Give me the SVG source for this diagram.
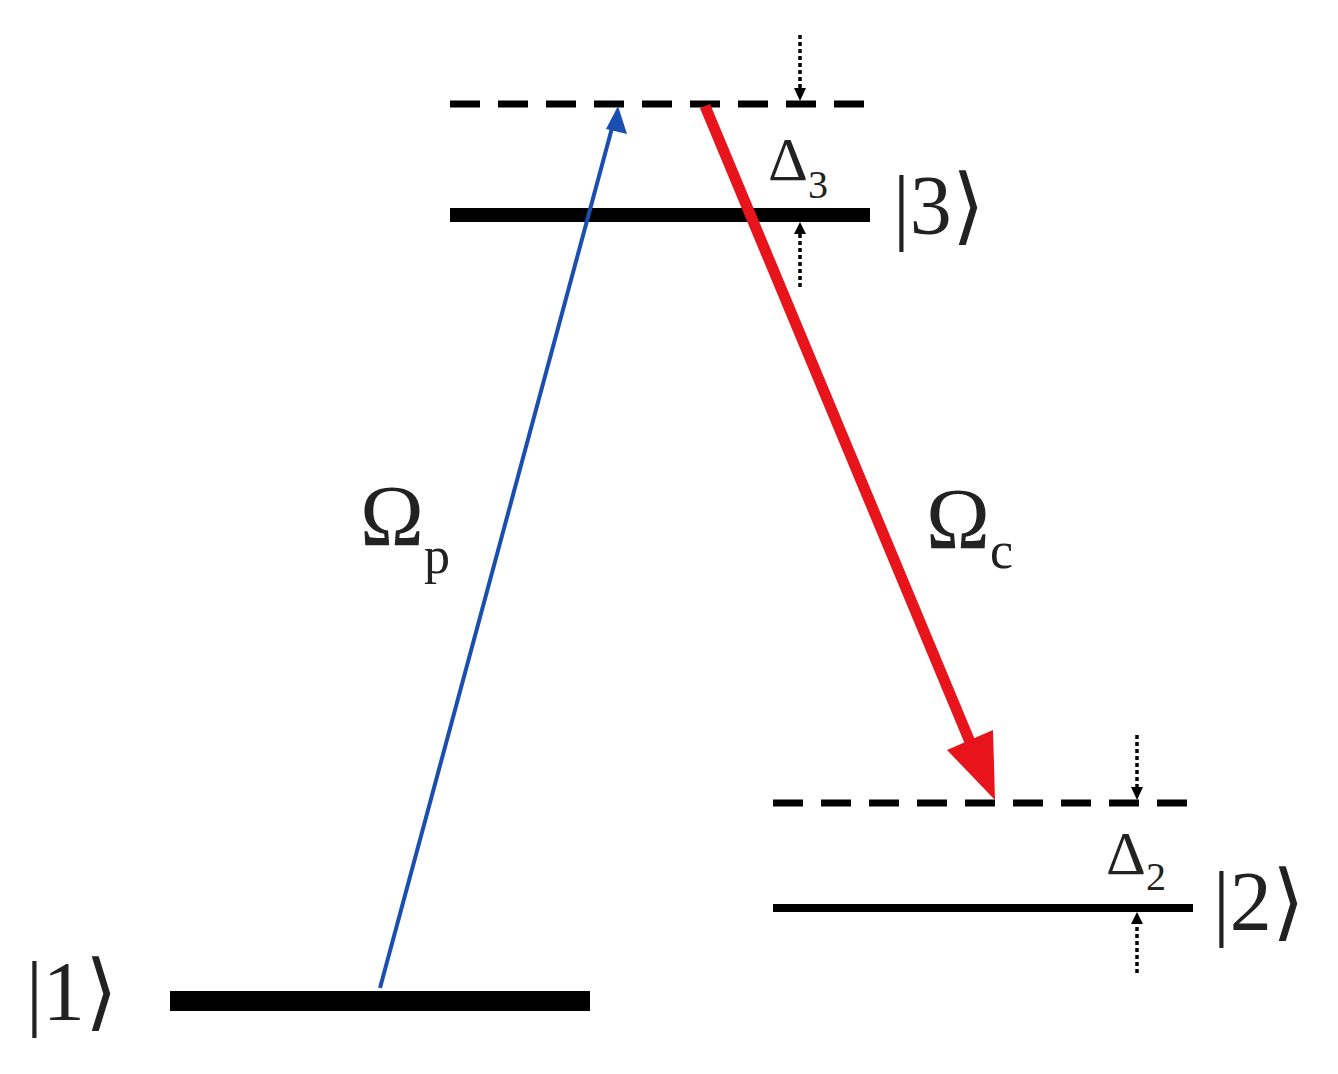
<svg xmlns="http://www.w3.org/2000/svg" width="1338" height="1074" viewBox="0 0 1338 1074">
<defs>
<style>
.t{font-family:"Liberation Serif",serif;fill:#222}
.dash{stroke:#000;stroke-width:7;stroke-dasharray:30 18}
.dot{stroke:#000;stroke-width:3.5;stroke-dasharray:4 3}
.ah{fill:#000}
</style>
</defs>
<rect width="1338" height="1074" fill="#fff"/>
<g id="level3">
<line x1="450" y1="104" x2="872" y2="104" class="dash"/>
<rect x="450" y="208" width="420" height="14" fill="#000"/>
<text x="893" y="234" class="t" font-size="84">|3⟩</text>
</g>
<g id="level2">
<line x1="773" y1="803" x2="1195" y2="803" class="dash"/>
<rect x="773" y="904" width="420" height="8" fill="#000"/>
<text x="1213" y="930" class="t" font-size="84">|2⟩</text>
</g>
<g id="level1">
<rect x="170" y="991" width="420" height="20" fill="#000"/>
<text x="26" y="1020" class="t" font-size="84">|1⟩</text>
</g>
<g id="delta3">
<line x1="800" y1="35" x2="800" y2="90" class="dot"/>
<path d="M794,88 L806,88 L800,101 Z" class="ah"/>
<line x1="800" y1="287" x2="800" y2="232" class="dot"/>
<path d="M794,234 L806,234 L800,222 Z" class="ah"/>
<text x="768" y="180" class="t" font-size="62">Δ<tspan font-size="40" dy="18">3</tspan></text>
</g>
<g id="delta2">
<line x1="1137" y1="735" x2="1137" y2="789" class="dot"/>
<path d="M1131,787 L1143,787 L1137,800 Z" class="ah"/>
<line x1="1137" y1="973" x2="1137" y2="922" class="dot"/>
<path d="M1131,924 L1143,924 L1137,912 Z" class="ah"/>
<text x="1106" y="874" class="t" font-size="62">Δ<tspan font-size="40" dy="16">2</tspan></text>
</g>
<g id="connectors">
<line x1="380" y1="988" x2="612" y2="128" stroke="#1a4fb0" stroke-width="4"/>
<path d="M618,106 L627,134 L606,129 Z" fill="#1a4fb0"/>
<line x1="705" y1="106" x2="970" y2="742" stroke="#e8141c" stroke-width="11"/>
<path d="M995,800 L947,750 L993,730 Z" fill="#e8141c"/>
</g>
<g id="labels">
<text x="360" y="545" class="t" font-size="86">Ω<tspan font-size="52" dy="28">p</tspan></text>
<text x="926" y="548" class="t" font-size="86">Ω<tspan font-size="52" dy="20">c</tspan></text>
</g>
</svg>
